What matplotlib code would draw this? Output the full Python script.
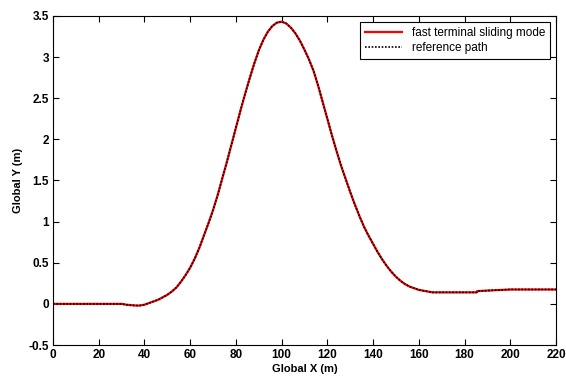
import numpy as np
import matplotlib
matplotlib.use('Agg')
import matplotlib.pyplot as plt

# path points (x in m, y in m)
x_ref = [0, 10, 20, 30, 32, 34, 36, 38, 40, 42, 44, 46, 48, 50, 52, 54, 56, 58,
         60, 62, 64, 66, 68, 70, 72, 74, 76, 78, 80, 82, 84, 86, 88, 90, 92, 94,
         96, 98, 100, 102, 104, 106, 108, 110, 112, 114, 116, 118, 120, 122, 124,
         126, 128, 130, 132, 134, 136, 138, 140, 142, 144, 146, 148, 150, 152, 154,
         156, 158, 160, 162, 164, 166, 175, 185.3, 185.5, 192.6, 200, 210, 220]
y_ref = [0.0, 0.0, 0.0, 0.0, -0.01, -0.015, -0.02, -0.02, -0.01, 0.01, 0.03, 0.05,
         0.08, 0.11, 0.15, 0.20, 0.27, 0.35, 0.44, 0.55, 0.68, 0.83, 0.98, 1.14,
         1.32, 1.52, 1.72, 1.93, 2.14, 2.35, 2.55, 2.74, 2.92, 3.08, 3.21, 3.31,
         3.38, 3.42, 3.43, 3.41, 3.36, 3.29, 3.20, 3.09, 2.97, 2.83, 2.65, 2.45,
         2.25, 2.05, 1.86, 1.68, 1.52, 1.36, 1.21, 1.07, 0.94, 0.83, 0.73, 0.63,
         0.54, 0.46, 0.39, 0.33, 0.28, 0.24, 0.21, 0.19, 0.17, 0.16, 0.15, 0.14,
         0.14, 0.14, 0.155, 0.165, 0.175, 0.175, 0.175]

# tracked path (overlaps the reference within pixel accuracy)
x_ftsm = list(x_ref)
y_ftsm = list(y_ref)

x_ticks = [0, 20, 40, 60, 80, 100, 120, 140, 160, 180, 200, 220]
y_ticks = [-0.5, 0, 0.5, 1, 1.5, 2, 2.5, 3, 3.5]
y_labels = ['-0.5', '0', '0.5', '1', '1.5', '2', '2.5', '3', '3.5']

plt.rcParams['font.family'] = ['Liberation Sans', 'DejaVu Sans']

fig = plt.figure(figsize=(5.66, 3.8), dpi=100)
ax = fig.add_axes([0.0936, 0.0921, 0.8887, 0.8658])

ax.plot(x_ftsm, y_ftsm, color='red', lw=1.6, label='fast terminal sliding mode')
ax.plot(x_ref, y_ref, color='black', lw=1.2, linestyle=(0, (1, 1)), label='reference path')

ax.set_xlim(0, 220)
ax.set_ylim(-0.5, 3.5)
ax.set_xticks(x_ticks)
ax.set_yticks(y_ticks)
ax.set_yticklabels(y_labels)
ax.tick_params(direction='in', top=True, right=True, length=4, width=0.8,
               labelsize=8.5, pad=3)
for lbl in ax.get_xticklabels() + ax.get_yticklabels():
    lbl.set_fontweight('bold')
for sp in ax.spines.values():
    sp.set_linewidth(0.8)

ax.set_xlabel('Global X (m)', fontsize=8, fontweight='bold', labelpad=2)
ax.set_ylabel('Global Y (m)', fontsize=8, fontweight='bold', labelpad=4)

leg = ax.legend(loc='upper right', bbox_to_anchor=(0.988, 0.982), borderaxespad=0,
                fancybox=False, edgecolor='black', framealpha=1, fontsize=8.5,
                handlelength=3.2, borderpad=0.4, labelspacing=0.3)
leg.get_frame().set_linewidth(0.8)

fig.savefig('out.png', dpi=100)
